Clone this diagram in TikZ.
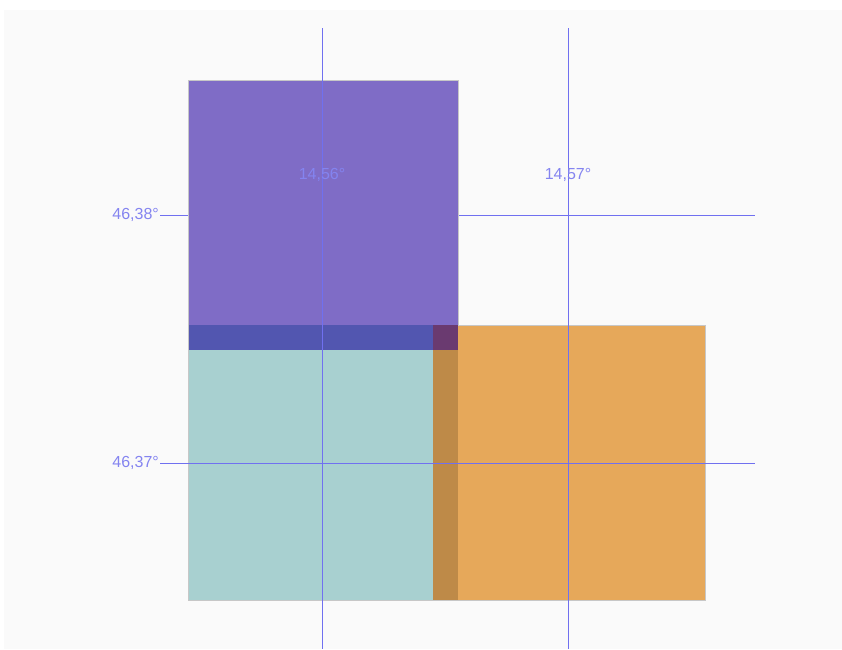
\documentclass[tikz,border=0pt]{standalone}
\usepackage{fontspec}
\setmainfont{Liberation Sans}
\usepackage{xcolor}
\usepackage{tikz}
\usetikzlibrary{positioning}
\definecolor{cBack}{RGB}{250,250,250}
\definecolor{cPurple}{RGB}{127,108,198}
\definecolor{cTeal}{RGB}{168,208,208}
\definecolor{cOrange}{RGB}{230,168,90}
\definecolor{cBand}{RGB}{82,86,176}
\definecolor{cCorner}{RGB}{106,58,112}
\definecolor{cTealOr}{RGB}{190,138,72}
\definecolor{cLine}{RGB}{112,112,240}
\definecolor{cText}{RGB}{132,132,240}

\begin{document}
\begin{tikzpicture}[x=1pt,y=-1pt,
  gridline/.style={cLine,line width=0.8pt},
  blockedge/.style={draw=black!22,line width=0.6pt},
  coordlab/.style={text=cText,font=\fontsize{16}{18}\selectfont,inner sep=1pt}]
  \useasboundingbox (0,0) rectangle (842,649);
  \fill[white] (0,0) rectangle (842,649);
  \fill[cBack] (4,10) rectangle (842,649);
  % upper latitude line, hidden under the purple block
  \coordinate (lat1w) at (160,215); \coordinate (lat1e) at (755,215);
  \draw[gridline] (lat1w) -- (lat1e);
  % blocks
  \fill[cTeal] (188,325) rectangle (458,600);
  \fill[cOrange] (433,325) rectangle (705,600);
  \fill[cPurple] (188,80) rectangle (458,350);
  % overlaps
  \fill[cTealOr] (433,350) rectangle (458,600);
  \fill[cBand] (188,325) rectangle (433,350);
  \fill[cCorner] (433,325) rectangle (458,350);
  \draw[blockedge] (188,80) -- (458,80) -- (458,325) -- (705,325) -- (705,600)
    -- (188,600) -- cycle;
  % lower latitude line
  \coordinate (lat2w) at (160,463); \coordinate (lat2e) at (755,463);
  \draw[gridline] (lat2w) -- (lat2e);
  % longitude lines
  \foreach \x/\name/\lab in {322/lonA/{14,56°},568/lonB/{14,57°}} {
    \coordinate (\name n) at (\x,28);
    \coordinate (\name s) at (\x,649);
    \draw[gridline] (\name n) -- (\name s);
    \node[coordlab] (\name lab) at (\x,175) {\lab};
  }
  % labels
  \node[coordlab,left] (lat1lab) at (lat1w) {46,38°};
  \node[coordlab,left] (lat2lab) at (lat2w) {46,37°};
\end{tikzpicture}
\end{document}
